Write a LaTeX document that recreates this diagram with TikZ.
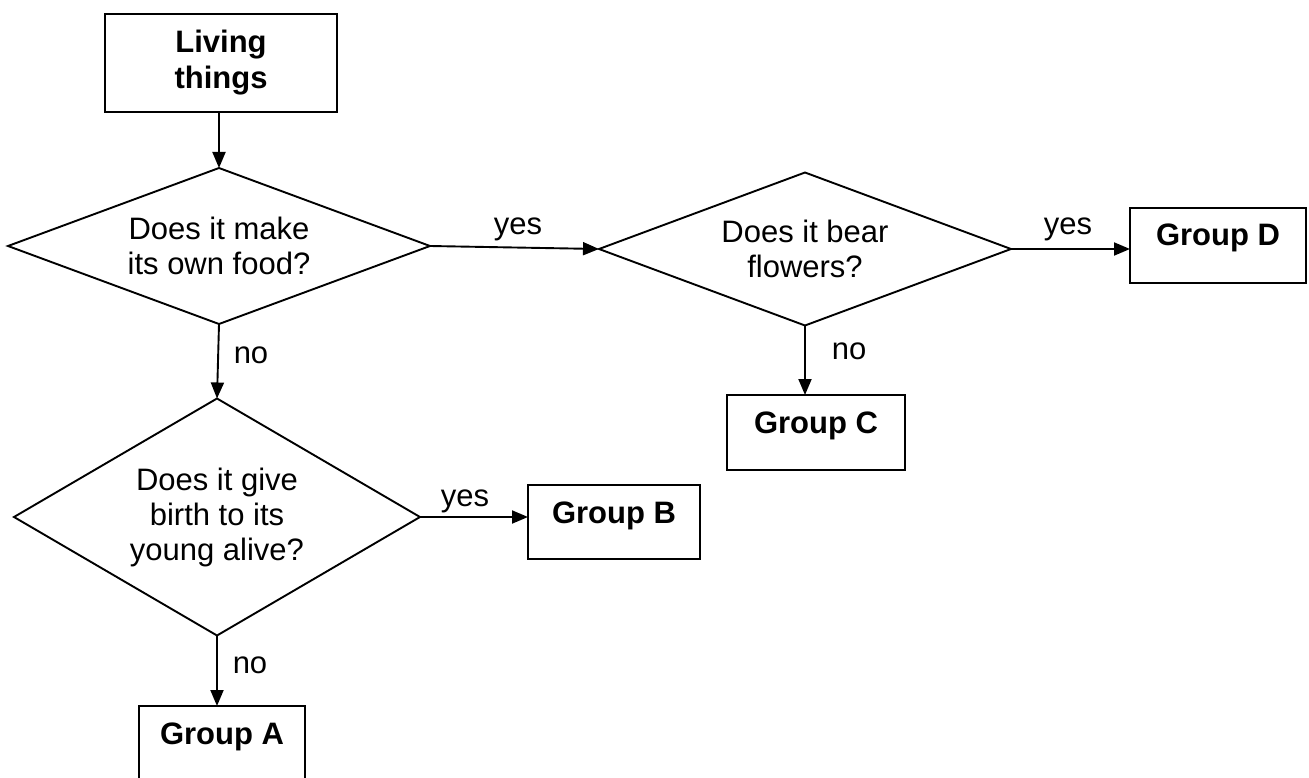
\documentclass[tikz,border=0pt]{standalone}
\usepackage{fontspec}
\setmainfont{Liberation Sans}
\usetikzlibrary{shapes.geometric,arrows.meta}
\begin{document}
\begin{tikzpicture}[x=1pt,y=-1pt,
  every node/.style={font=\fontsize{31}{35}\selectfont},
  startbox/.style={draw,line width=1.9pt,inner sep=0pt,outer sep=0pt,
    align=center,font=\fontsize{31}{36}\selectfont\bfseries},
  box/.style={draw,line width=1.9pt,inner xsep=0pt,inner ysep=0pt,outer sep=0pt,
    font=\fontsize{31}{35}\selectfont\bfseries,text height=38pt},
  question/.style={draw,diamond,line width=1.9pt,inner sep=2pt,outer sep=0pt,align=center},
  flow/.style={line width=1.9pt,-{Triangle[length=16pt,width=13pt]}},
  tag/.style={anchor=base,inner sep=0pt}
]
% page frame
\useasboundingbox (0,0) rectangle (1309,778);
\fill[white] (0,0) rectangle (1309,778);
\clip (0,0) rectangle (1309,778);

% start box
\node[startbox, minimum width=232pt, minimum height=98pt] (lt) at (221,63) {Living\\things};

% decisions
\node[question, minimum width=422pt, minimum height=156pt, aspect=2.7] (d1) at (219,246)
  {Does it make\\its own food?};
\node[question, minimum width=412pt, minimum height=153pt, aspect=2.7] (d2) at (805,249)
  {Does it bear\\flowers?};
\node[question, minimum width=406pt, minimum height=237pt, aspect=1.7] (d3) at (217,517)
  {Does it give\\birth to its\\young alive?};

% outcome groups
\node[box, minimum width=176pt, text depth=37pt] (gd) at (1218,245.5) {Group D};
\node[box, minimum width=178pt, text depth=37pt] (gc) at (816,432.5) {Group C};
\node[box, minimum width=172pt, text depth=36pt] (gb) at (614,522) {Group B};
\node[box, minimum width=166pt, text depth=42pt] (ga) at (222,746) {Group A};

% connectors
\draw[flow] (lt.south -| d1.north) -- (d1.north);
\draw[flow] (d1.east) -- (d2.west);
\draw[flow] (d2.east) -- (d2.east -| gd.west);
\draw[flow] (d2.south) -- (d2.south |- gc.north);
\draw[flow] (d1.south) -- (d3.north);
\draw[flow] (d3.east) -- (d3.east -| gb.west);
\draw[flow] (d3.south) -- (d3.south |- ga.north);

% branch labels
\node[tag] (y1) at (518,234) {yes};
\node[tag] (y2) at (1068,234) {yes};
\node[tag] (y3) at (465,506) {yes};
\node[tag] (n1) at (251,363) {no};
\node[tag] (n2) at (849,359) {no};
\node[tag] (n3) at (250,673) {no};
\end{tikzpicture}
\end{document}
